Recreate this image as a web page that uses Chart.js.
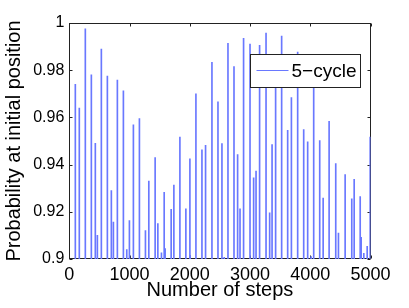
<!DOCTYPE html>
<html>
<head>
<meta charset="utf-8">
<script src="https://cdn.jsdelivr.net/npm/chart.js@4.4.1/dist/chart.umd.min.js"></script>
<style>
    html, body { margin: 0; padding: 0; background: #fff; }
    #wrap { width: 409px; height: 308px; }
</style>
</head>
<body>
<div id="wrap"><canvas id="chart"></canvas></div>
<script>
// steps where the walk comes back near the start, and the peak reached there
const spikeSteps = [100, 166, 266, 366, 432, 466, 532, 632, 698, 732, 798, 898, 954, 998,
    1064, 1164, 1264, 1320, 1425, 1470, 1530, 1575, 1591, 1691, 1736, 1836, 1935,
    2002, 2007, 2102, 2202, 2262, 2368, 2468, 2534, 2572, 2634, 2734, 2794, 2834, 2893,
    3000, 3060, 3100, 3159, 3266, 3326, 3366, 3425, 3525, 3625, 3687, 3791, 3891, 3957,
    4014, 4057, 4157, 4214, 4313, 4423, 4468, 4579, 4689, 4729, 4829, 4845, 4889, 4945, 4995];
const spikePeaks = [0.974, 0.964, 0.9975, 0.978, 0.949, 0.910, 0.989, 0.9775, 0.929, 0.9156, 0.9758, 0.9713, 0.904, 0.9163,
    0.9568, 0.9595, 0.912, 0.933, 0.943, 0.915, 0.9026, 0.9282, 0.9044, 0.921, 0.9313, 0.9517, 0.9213,
    0.9424, 0.9014, 0.970, 0.9463, 0.9482, 0.9833, 0.9666, 0.9489, 0.9007, 0.9914, 0.9815, 0.9442, 0.9213, 0.9935,
    0.9911, 0.9344, 0.9373, 0.9905, 0.9957, 0.9196, 0.9485, 0.980, 0.9945, 0.9545, 0.9684, 0.9877, 0.9548, 0.9496,
    0.901, 0.982, 0.9502, 0.9258, 0.9583, 0.9404, 0.911, 0.9358, 0.9255, 0.9338, 0.9265, 0.9092, 0.9024, 0.9054, 0.9517];
const xTicks = [0, 1000, 2000, 3000, 4000, 5000];
const yTicks = [0.9, 0.92, 0.94, 0.96, 0.98, 1];
const seriesLabel = '5\u2212cycle';

const blue = 'rgb(105,120,255)';
Chart.defaults.font.family = "'Liberation Sans', Arial, sans-serif";
Chart.defaults.color = '#000';

// matlab style: closed box, ticks pointing inward, legend inside the axes
const boxPlugin = {
    id: 'matlabBox',
    beforeDatasetsDraw(chart) {
        const { ctx, chartArea: a, scales } = chart;
        const L = Math.round(a.left) + 0.5, R = Math.round(a.right) - 0.5;
        const T = Math.round(a.top) + 0.5, B = Math.round(a.bottom) - 0.5;
        ctx.save();
        ctx.strokeStyle = '#222';
        ctx.lineWidth = 1;
        ctx.strokeRect(L, T, R - L, B - T);
        ctx.beginPath();
        scales.x.ticks.forEach(t => {
            const px = Math.round(scales.x.getPixelForValue(t.value)) + 0.5;
            ctx.moveTo(px, B); ctx.lineTo(px, B - 3);
            ctx.moveTo(px, T); ctx.lineTo(px, T + 3);
        });
        scales.y.ticks.forEach(t => {
            const py = Math.round(scales.y.getPixelForValue(t.value)) + 0.5;
            ctx.moveTo(L, py); ctx.lineTo(L + 3, py);
            ctx.moveTo(R, py); ctx.lineTo(R - 3, py);
        });
        ctx.stroke();
        ctx.restore();
    },
    afterDatasetsDraw(chart) {
        const { ctx, chartArea: a } = chart;
        // legend box
        const lx = Math.round(a.right - 121) + 0.5, ly = Math.round(a.top + 31) + 0.5;
        ctx.save();
        ctx.lineWidth = 1;
        ctx.fillStyle = '#fff';
        ctx.fillRect(lx, ly, 110, 33);
        ctx.strokeStyle = '#222';
        ctx.strokeRect(lx, ly, 110, 33);
        ctx.strokeStyle = blue;
        ctx.beginPath();
        ctx.moveTo(lx + 6, ly + 16);
        ctx.lineTo(lx + 38, ly + 16);
        ctx.stroke();
        ctx.fillStyle = '#000';
        ctx.font = "19px 'Liberation Sans', Arial, sans-serif";
        ctx.textBaseline = 'middle';
        ctx.fillText(chart.data.datasets[0].label, lx + 41, ly + 17);
        ctx.restore();
    }
};

new Chart(document.getElementById('chart'), {
    type: 'bar',
    data: {
        datasets: [{
            label: seriesLabel,
            data: spikeSteps.map((s, i) => ({ x: s, y: spikePeaks[i] })),
            backgroundColor: blue,
            borderWidth: 0,
            barThickness: 1,
            grouped: false
        }]
    },
    options: {
        responsive: true,
        maintainAspectRatio: false,
        animation: false,
        layout: { padding: { top: 23, right: 38.5, left: 0, bottom: 0 } },
        plugins: {
            legend: { display: false },
            tooltip: { enabled: false }
        },
        scales: {
            x: {
                type: 'linear',
                offset: false,
                min: 0,
                max: 5000,
                afterBuildTicks: scale => { scale.ticks = xTicks.map(v => ({ value: v })); },
                afterFit: scale => { scale.height = 49; },
                grid: { display: false, drawTicks: false },
                border: { display: false },
                ticks: {
                    font: { size: 18 },
                    padding: 5,
                    maxRotation: 0,
                    autoSkip: false,
                    callback: v => String(v)
                },
                title: {
                    display: true,
                    text: 'Number of steps',
                    font: { size: 20 },
                    padding: { top: 0, bottom: 6 }
                }
            },
            y: {
                min: 0.9,
                max: 1,
                afterBuildTicks: scale => { scale.ticks = yTicks.map(v => ({ value: v })); },
                afterFit: scale => { scale.width = 69.3; },
                grid: { display: false, drawTicks: false },
                border: { display: false },
                ticks: {
                    font: { size: 16 },
                    padding: 5,
                    callback: v => String(Number(v.toFixed(2)))
                },
                title: {
                    display: true,
                    text: 'Probability at initial position',
                    font: { size: 20 },
                    padding: { top: 2, bottom: 0 }
                }
            }
        }
    },
    plugins: [boxPlugin]
});
</script>
</body>
</html>
